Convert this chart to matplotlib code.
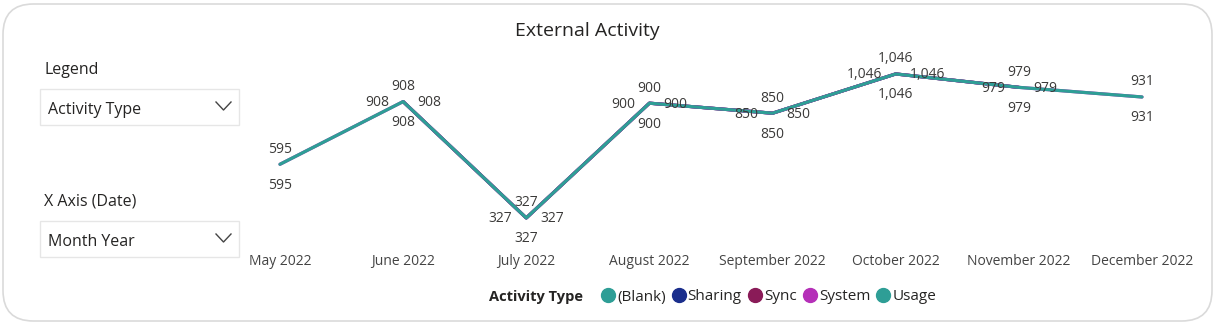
import numpy as np
import matplotlib.pyplot as plt
from matplotlib.patches import FancyBboxPatch, Rectangle
from matplotlib.lines import Line2D

plt.rcParams['font.family'] = ['Open Sans', 'DejaVu Sans']

months = ['May 2022', 'June 2022', 'July 2022', 'August 2022', 'September 2022',
          'October 2022', 'November 2022', 'December 2022']
blank = [None] * 8
sharing = [None, 908, 327, 900, 850, 1046, 979, None]
sync = [None, 908, 327, 900, 850, 1046, 979, None]
system = [595, 908, 327, 900, 850, 1046, 979, 931]
usage = [595, 908, 327, 900, 850, 1046, 979, 931]

series_names = ['(Blank)', 'Sharing', 'Sync', 'System', 'Usage']
series_colors = ['#2E9E96', '#1A2E8C', '#8A1B58', '#B530B8', '#2E9E96']
series_vals = [blank, sharing, sync, system, usage]
# where each series puts its value label, in pixels (dx, dy)
label_offsets = [None, (-14, -1), (14, -1), (0, -21), (0, 15)]
label_ha = [None, 'right', 'left', 'center', 'center']

W, H = 1215, 324
fig = plt.figure(figsize=(W / 100, H / 100), dpi=100)


def fx(x):
    return x / W


def fy(y):
    return 1 - y / H


# card background
card = FancyBboxPatch((fx(3), fy(321)), fx(1209), 317 / H,
                      boxstyle='round,pad=0,rounding_size=0.025',
                      transform=fig.transFigure, facecolor='white',
                      edgecolor='#DADADA', linewidth=1.2, mutation_aspect=W / H,
                      zorder=-10)
fig.add_artist(card)

# slicer panel on the left
fig.text(fx(44), fy(70), 'Legend', fontsize=11.5, color='#252423', va='center')
fig.text(fx(44), fy(201), 'X Axis (Date)', fontsize=11.5, color='#252423', va='center')
for top, txt in [(89, 'Activity Type'), (221, 'Month Year')]:
    fig.add_artist(Rectangle((fx(40), fy(top + 36)), fx(199), 36 / H,
                             transform=fig.transFigure, facecolor='white',
                             edgecolor='#E6E6E6', linewidth=1, zorder=-5))
    fig.text(fx(48), fy(top + 21), txt, fontsize=11.5, color='#252423', va='center')
    cy = top + 17
    fig.add_artist(Line2D([fx(216), fx(223.5), fx(231)], [fy(cy - 4), fy(cy + 4), fy(cy - 4)],
                          transform=fig.transFigure, color='#444444', linewidth=1))

fig.text(fx(587), fy(31), 'External Activity', fontsize=14, color='#252423',
         ha='center', va='center')

# line chart
ax = fig.add_axes([fx(249.2), fy(250), fx(1185.1 - 249.2), (250 - 43.1) / H])
x = np.arange(len(months))
for name, vals, col in zip(series_names, series_vals, series_colors):
    y = np.array([np.nan if v is None else v for v in vals], dtype=float)
    ax.plot(x, y, color=col, linewidth=2.3, solid_capstyle='round')

for vals, off, ha in zip(series_vals, label_offsets, label_ha):
    if off is None:
        continue
    for i, v in enumerate(vals):
        if v is None:
            continue
        ax.annotate(f'{v:,}', (i, v), xytext=(off[0] * 0.72, off[1] * 0.72),
                    textcoords='offset points', ha=ha, va='center',
                    fontsize=10, color='#3B3A39')

ax.set_xlim(-0.25, 7.35)
ax.set_ylim(167, 1200)
ax.set_xticks(x)
ax.set_xticklabels(months, fontsize=10, color='#444444', va='baseline')
ax.tick_params(axis='x', length=0, pad=10.5)
ax.set_yticks([])
for s in ax.spines.values():
    s.set_visible(False)
ax.patch.set_alpha(0)

# legend row
fig.text(fx(489), fy(297), 'Activity Type', fontsize=10.5, fontweight='bold',
         color='#252423', va='center')
handles = [Line2D([], [], marker='o', linestyle='none', markersize=10,
                  markerfacecolor=c, markeredgecolor=c) for c in series_colors]
fig.legend(handles, series_names, loc='center left', bbox_to_anchor=(fx(594), fy(297)),
           ncol=5, frameon=False, fontsize=11, handlelength=0.8, handletextpad=0.2,
           columnspacing=0.45, borderpad=0, labelcolor='#252423')

fig.savefig('out.png', dpi=100)
